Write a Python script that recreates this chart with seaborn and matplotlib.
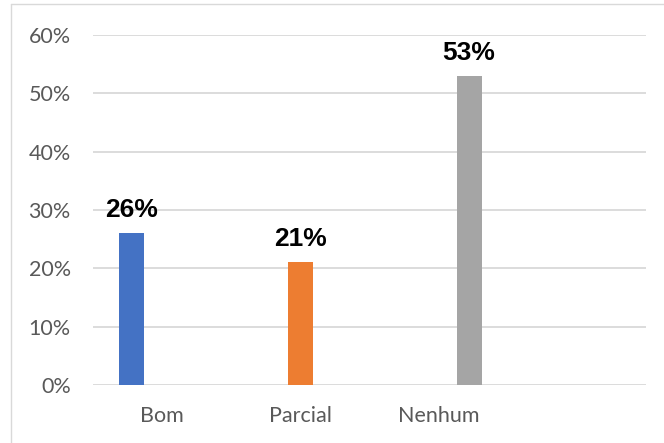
import matplotlib
matplotlib.use("Agg")
import matplotlib.pyplot as plt
from matplotlib.lines import Line2D
import seaborn as sns
import pandas as pd

# Response categories and their shares
categories = ["Bom", "Parcial", "Nenhum"]
series = ["Bom", "Parcial", "Nenhum"]
values = [0.26, 0.21, 0.53]
colors = ["#4472C4", "#ED7D31", "#A5A5A5"]
yticks = [0.0, 0.1, 0.2, 0.3, 0.4, 0.5, 0.6]

df = pd.DataFrame({"categoria": categories, "serie": series, "valor": values})

sns.set_theme(style="white")
plt.rcParams["font.family"] = ["Lato", "DejaVu Sans"]

fig = plt.figure(figsize=(6.64, 4.43), dpi=100)
ax = fig.add_axes([0.140, 0.131, 0.833, 0.790])

sns.barplot(
    data=df, x="categoria", y="valor", hue="serie",
    order=categories, hue_order=series, palette=colors, saturation=1,
    width=0.66, gap=0.18, dodge=True, linewidth=0, legend=False, ax=ax,
)

# A fourth, empty slot on the category axis keeps the clusters narrow
ax.set_xlim(-0.5, 3.5)
ax.set_ylim(0, 0.6)
ax.set_yticks(yticks)
ax.set_yticklabels([f"{t:.0%}" for t in yticks])
ax.set_xlabel("")
ax.set_ylabel("")

ax.yaxis.grid(True, color="#D9D9D9", linewidth=1.3)
ax.set_axisbelow(True)
for s in ax.spines.values():
    s.set_visible(False)

ax.tick_params(axis="y", length=0, pad=16, labelsize=15.5, labelcolor="#595959")
ax.tick_params(axis="x", length=0, pad=15, labelsize=15.5, labelcolor="#595959")

for cont, v in zip(ax.containers, values):
    if len(cont) == 0:
        continue
    ax.bar_label(cont, labels=[f"{v:.0%}"], padding=8, fontsize=19,
                 fontweight="bold", color="#000000",
                 family=["Liberation Sans", "DejaVu Sans"])

# Chart frame (left and top edges visible)
fig.add_artist(Line2D([0.0166, 0.0166], [0.0, 0.990], color="#D9D9D9",
                      linewidth=1.0, transform=fig.transFigure))
fig.add_artist(Line2D([0.0166, 1.0], [0.990, 0.990], color="#D9D9D9",
                      linewidth=1.0, transform=fig.transFigure))

fig.savefig("out.png", dpi=100, facecolor="white")
